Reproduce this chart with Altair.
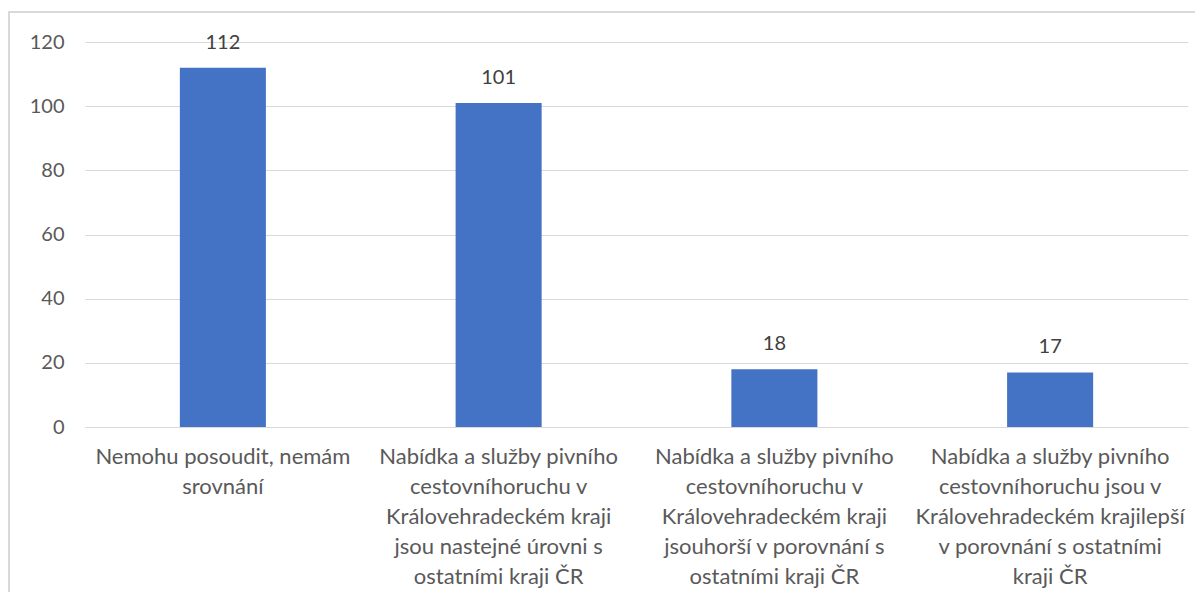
import altair as alt
import pandas as pd

categories = [
    "Nemohu posoudit, nemám\nsrovnání",
    "Nabídka a služby pivního\ncestovníhoruchu v\nKrálovehradeckém kraji\njsou nastejné úrovni s\nostatními kraji ČR",
    "Nabídka a služby pivního\ncestovníhoruchu v\nKrálovehradeckém kraji\njsouhorší v porovnání s\nostatními kraji ČR",
    "Nabídka a služby pivního\ncestovníhoruchu jsou v\nKrálovehradeckém krajilepší\nv porovnání s ostatními\nkraji ČR",
]
values = [112, 101, 18, 17]
y_ticks = [0, 20, 40, 60, 80, 100, 120]

df = pd.DataFrame({"cat": categories, "val": values})

FONT = "Lato"

x_enc = alt.X(
    "cat:N",
    sort=categories,
    title=None,
    scale=alt.Scale(paddingInner=0.688, paddingOuter=0.344),
    axis=alt.Axis(
        labelAngle=0,
        labelExpr="split(datum.label, '\\n')",
        labelFont=FONT,
        labelFontSize=22,
        labelColor="#595959",
        labelLineHeight=30,
        labelPadding=19,
        labelAlign="center",
        labelBaseline="top",
        labelLimit=400,
        ticks=False,
        domainColor="#d9d9d9",
        domainWidth=1,
        grid=False,
    ),
)
y_enc = alt.Y(
    "val:Q",
    title=None,
    scale=alt.Scale(domain=[0, 120], nice=False),
    axis=alt.Axis(
        values=y_ticks,
        labelFont=FONT,
        labelFontSize=20,
        labelColor="#595959",
        labelPadding=21,
        ticks=False,
        domain=False,
        gridColor="#d9d9d9",
        gridWidth=1,
    ),
)

bars = alt.Chart(df).mark_bar(color="#4472C4").encode(x=x_enc, y=y_enc)
labels = alt.Chart(df).mark_text(
    font=FONT, fontSize=20, color="#404040", dy=-15, baseline="bottom"
).encode(x=alt.X("cat:N", sort=categories), y="val:Q", text="val:Q")

frame = alt.Chart(df).mark_rect(
    fill=None, stroke="#d9d9d9", strokeWidth=1.5
).encode(
    x=alt.value(-76), x2=alt.value(1140), y=alt.value(-30), y2=alt.value(580)
)

chart = (
    alt.layer(frame, bars, labels)
    .properties(
        width=1103,
        height=385,
        autosize=alt.AutoSizeParams(type="none"),
        padding={"left": 77, "top": 34, "right": 7, "bottom": 165},
        background="white",
    )
    .configure_view(strokeWidth=0, stroke="transparent")
)

chart.save("out.html", embed_options={"renderer": "svg", "actions": False})
